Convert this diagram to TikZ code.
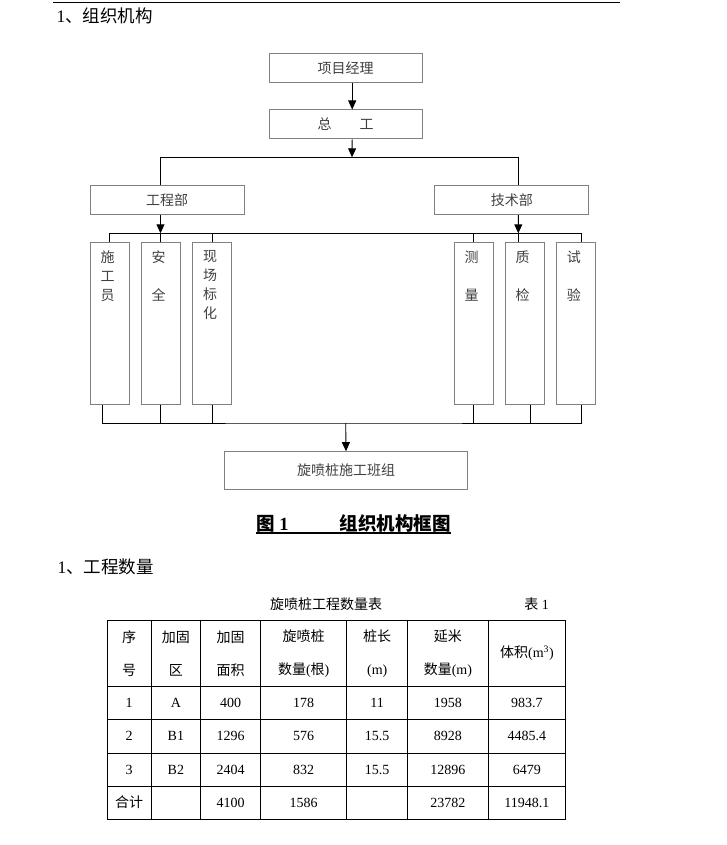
\documentclass[tikz,border=0pt]{standalone}
\usepackage{fontspec}
\setmainfont{Liberation Serif}
\newfontfamily\cjk{Noto Sans CJK SC}
\usetikzlibrary{arrows.meta}
\newcommand\zh[1]{{\cjk #1}}

\begin{document}
\begin{tikzpicture}[x=1pt,y=-1pt,>={Triangle[length=9pt,width=8pt]},
  box/.style={draw=black!50,line width=1pt,minimum width=153pt,minimum height=29pt,inner sep=0pt,
    font=\cjk\fontsize{14}{19}\selectfont,text=black!75},
  colbox/.style={draw=black!50,line width=1pt,minimum width=39pt,minimum height=161.6pt,inner sep=0pt},
  coltext/.style={anchor=north,align=center,inner sep=0pt,xshift=-2pt,yshift=-8pt,
    font=\cjk\fontsize{14}{19}\selectfont,text=black!75},
  wire/.style={line width=0.9pt},
  tab/.style={line width=0.9pt},
  cell/.style={align=center,inner sep=0pt,font=\fontsize{14}{33}\selectfont}]
  \useasboundingbox (0,0) rectangle (727,845);

  % header
  \draw[line width=1.3pt] (53,2.3) -- (620,2.3);
  \node[anchor=west,inner sep=0pt,font=\fontsize{17.5}{20}\selectfont] (sec1) at (56.5,16) {1\zh{、组织机构}};

  % organisation chart
  \node[box] (pm) at (345.7,67.7) {项目经理};
  \node[box] (zg) at (345.7,124.5) {总　　工};
  \node[box,minimum width=154pt] (gcb) at (167,200.2) {工程部};
  \node[box,minimum width=154pt] (jsb) at (511.9,200.2) {技术部};

  \node[colbox,label={[coltext]north:{施\\工\\员}}] (sgy) at (109.5,323.5) {};
  \node[colbox,label={[coltext]north:{安\\[19pt]全}}] (aq) at (160.5,323.5) {};
  \node[colbox,label={[coltext]north:{现\\场\\标\\化}}] (xc) at (212,323.5) {};
  \node[colbox,label={[coltext]north:{测\\[19pt]量}}] (cl) at (473.5,323.5) {};
  \node[colbox,label={[coltext]north:{质\\[19pt]检}}] (zj) at (524.7,323.5) {};
  \node[colbox,label={[coltext]north:{试\\[19pt]验}}] (sy) at (575.8,323.5) {};

  \node[box,minimum width=243.4pt,minimum height=37.6pt] (bz) at (346,470.5) {旋喷桩施工班组};

  \coordinate (s1) at (352,157.3);
  \coordinate (jl) at (160.5,233.3);
  \coordinate (jr) at (518.3,233.3);
  \coordinate (jb) at (345.7,423);
  \coordinate (zjb) at (530.7,423);

  \draw[wire,->] ([xshift=6.5pt]pm.south) -- ([xshift=6.5pt]zg.north);
  \draw[wire,->] ([xshift=6.5pt]zg.south) -- (s1);
  \draw[wire] ([xshift=-6.5pt]gcb.north) |- (s1) -| ([xshift=6.4pt]jsb.north);
  \draw[wire,->] ([xshift=-6.5pt]gcb.south) -- (jl);
  \draw[wire,->] ([xshift=6.4pt]jsb.south) -- (jr);

  % upper bus
  \draw[wire] (sgy.north) |- (jl) -- (jr) -| ([xshift=5.9pt]sy.north);
  \draw[wire] (aq.north) -- (jl);
  \draw[wire] (xc.north) -- (xc.north |- jl);
  \draw[wire] (cl.north) -- (cl.north |- jl);
  \draw[wire] ([xshift=-6.4pt]zj.north) -- (jr);

  % lower bus
  \draw[wire] ([xshift=-6.8pt]sgy.south) |- (jb) -| ([xshift=5.9pt]sy.south);
  \draw[wire] (aq.south) -- (aq.south |- jb);
  \draw[wire] (xc.south) -- (xc.south |- jb);
  \draw[wire] (cl.south) -- (cl.south |- jb);
  \draw[wire] ([xshift=6pt]zj.south) -- (zjb);
  \draw[wire,->] (jb) -- (bz.north);

  % caption
  \node[inner sep=0pt,font=\bfseries\fontsize{18.5}{20}\selectfont] (cap) at (353.5,523.5)
    {\zh{图}~1\hspace{51pt}\zh{组织机构框图}};
  \draw[line width=1.3pt] ([yshift=-2.5pt]cap.base west) -- ([yshift=-2.5pt]cap.base east);

  % quantities
  \node[anchor=west,inner sep=0pt,font=\fontsize{17.5}{20}\selectfont] (sec2) at (57.5,567) {1\zh{、工程数量}};
  \node[inner sep=0pt,font=\fontsize{14}{16}\selectfont] (tabtitle) at (326,604) {\zh{旋喷桩工程数量表}};
  \node[inner sep=0pt,font=\fontsize{14}{16}\selectfont] (tabno) at (536.5,604) {\zh{表} 1};

  \draw[tab] (107,620) rectangle (565.7,819);
  \foreach \y in {686.7,719,753,786} \draw[tab] (107,\y) -- (565.7,\y);
  \foreach \x in {151,200.7,260.7,346.7,407.7,488} \draw[tab] (\x,620) -- (\x,819);

  \foreach \x/\t [count=\i] in {129/{\zh{序}\\\zh{号}},175.9/{\zh{加固}\\\zh{区}},230.7/{\zh{加固}\\\zh{面积}},
      303.7/{\zh{旋喷桩}\\\zh{数量}(\zh{根})},377.2/{\zh{桩长}\\(m)},447.9/{\zh{延米}\\\zh{数量}(m)},
      526.9/{\zh{体积}(m\textsuperscript{3})}}
    \node[cell] (h\i) at (\x,653.4) {\t};
  \foreach \x/\t [count=\i] in {129/1,175.9/A,230.7/400,303.7/178,377.2/11,447.9/1958,526.9/983.7}
    \node[cell] (a\i) at (\x,703) {\t};
  \foreach \x/\t [count=\i] in {129/2,175.9/B1,230.7/1296,303.7/576,377.2/15.5,447.9/8928,526.9/4485.4}
    \node[cell] (b\i) at (\x,736) {\t};
  \foreach \x/\t [count=\i] in {129/3,175.9/B2,230.7/2404,303.7/832,377.2/15.5,447.9/12896,526.9/6479}
    \node[cell] (c\i) at (\x,769.5) {\t};
  \foreach \x/\t [count=\i] in {129/\zh{合计},175.9/{},230.7/4100,303.7/1586,377.2/{},447.9/23782,526.9/11948.1}
    \node[cell] (d\i) at (\x,802.5) {\t};
\end{tikzpicture}
\end{document}
